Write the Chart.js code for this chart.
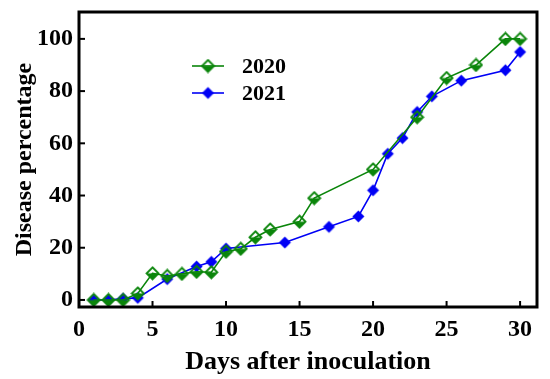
<!DOCTYPE html>
<html>
<head>
<meta charset="utf-8">
<script src="https://cdn.jsdelivr.net/npm/chart.js@4/dist/chart.umd.min.js"></script>
<style>
  html, body { margin: 0; padding: 0; background: #fff; }
  #wrap { width: 550px; height: 379px; }
</style>
</head>
<body>
<div id="wrap"><canvas id="diseaseChart"></canvas></div>
<script>
// data
const days2020 = [1, 2, 3, 4, 5, 6, 7, 8, 9, 10, 11, 12, 13, 15, 16, 20, 23, 25, 27, 29, 30];
const pct2020 = [0, 0, 0, 2.5, 10.2, 9.2, 10, 10.8, 10.6, 18.5, 19.6, 24, 27, 30, 39, 50, 70, 85, 90, 100, 100];
const days2021 = [1, 2, 3, 4, 6, 8, 9, 10, 14, 17, 19, 20, 21, 22, 23, 24, 26, 29, 30];
const pct2021 = [0, 0, 0.5, 0.8, 8, 12.8, 14.6, 19.7, 22, 28, 32, 42, 56, 62, 72, 78, 84, 88, 95];
const xTicks = [0, 5, 10, 15, 20, 25, 30];
const yTicks = [0, 20, 40, 60, 80, 100];
const seriesNames = ['2020', '2021'];

const GREEN = '#0a850a';
const BLUE = '#0000f5';
const FONT = '"Liberation Serif", "Times New Roman", serif';

// marker images
function diamond(color, hollow) {
    const c = document.createElement('canvas');
    c.width = 15; c.height = 15;
    const g = c.getContext('2d');
    const m = 7.5, r = 6;
    g.beginPath();
    g.moveTo(m, m - r); g.lineTo(m + r, m); g.lineTo(m, m + r); g.lineTo(m - r, m); g.closePath();
    if (hollow) {
        g.lineWidth = 1.8; g.strokeStyle = color; g.stroke();
        g.beginPath();
        g.moveTo(m - r, m); g.lineTo(m + r, m); g.lineTo(m, m + r); g.closePath();
        g.fillStyle = color; g.fill();
    } else {
        g.fillStyle = color; g.fill();
    }
    return c;
}
const mark2020 = diamond(GREEN, true);
const mark2021 = diamond(BLUE, false);

// frame, inward ticks and legend
const framePlugin = {
    id: 'frame',
    afterDraw(chart) {
        const { ctx, chartArea: a, scales } = chart;
        ctx.save();
        ctx.strokeStyle = '#000';
        ctx.lineWidth = 2;
        xTicks.forEach(v => {
            const x = scales.x.getPixelForValue(v);
            ctx.beginPath(); ctx.moveTo(x, a.bottom); ctx.lineTo(x, a.bottom - 6); ctx.stroke();
        });
        yTicks.forEach(v => {
            const y = scales.y.getPixelForValue(v);
            ctx.beginPath(); ctx.moveTo(a.left, y); ctx.lineTo(a.left + 6, y); ctx.stroke();
        });
        ctx.lineWidth = 3;
        ctx.strokeRect(a.left, a.top, a.right - a.left, a.bottom - a.top);

        // legend
        const items = [[GREEN, mark2020], [BLUE, mark2021]];
        ctx.font = 'bold 22px ' + FONT;
        ctx.textBaseline = 'middle';
        ctx.fillStyle = '#000';
        items.forEach((it, i) => {
            const y = 66 + i * 27;
            ctx.strokeStyle = it[0];
            ctx.lineWidth = 1.6;
            ctx.beginPath(); ctx.moveTo(192, y); ctx.lineTo(224, y); ctx.stroke();
            ctx.drawImage(it[1], 208 - 7.5, y - 7.5);
            ctx.fillText(seriesNames[i], 242, y + 1);
        });
        ctx.restore();
    }
};

new Chart(document.getElementById('diseaseChart'), {
    type: 'scatter',
    data: {
        datasets: [
            {
                label: seriesNames[0],
                data: days2020.map((d, i) => ({ x: d, y: pct2020[i] })),
                showLine: true,
                borderColor: GREEN,
                borderWidth: 1.6,
                pointStyle: mark2020,
                pointRadius: 7
            },
            {
                label: seriesNames[1],
                data: days2021.map((d, i) => ({ x: d, y: pct2021[i] })),
                showLine: true,
                borderColor: BLUE,
                borderWidth: 1.6,
                pointStyle: mark2021,
                pointRadius: 7
            }
        ]
    },
    options: {
        responsive: true,
        maintainAspectRatio: false,
        animation: false,
        layout: { padding: { top: 12, right: 13, left: 0, bottom: 0 } },
        plugins: { legend: { display: false }, tooltip: { enabled: false } },
        scales: {
            x: {
                type: 'linear',
                min: 0,
                max: 31.15,
                afterBuildTicks: s => { s.ticks = xTicks.map(v => ({ value: v })); },
                afterFit: s => { s.height = 72; s.paddingLeft = 0; s.paddingRight = 0; },
                grid: { display: false, drawTicks: false },
                border: { display: false },
                ticks: { color: '#000', padding: 8, font: { family: FONT, size: 24, weight: 'bold' } },
                title: {
                    display: true,
                    text: 'Days after inoculation',
                    color: '#000',
                    padding: { top: 0, bottom: 1 },
                    font: { family: FONT, size: 26, weight: 'bold' }
                }
            },
            y: {
                min: -2.7,
                max: 110.3,
                afterBuildTicks: s => { s.ticks = yTicks.map(v => ({ value: v })); },
                afterFit: s => { s.width = 79; s.paddingTop = 0; s.paddingBottom = 0; },
                grid: { display: false, drawTicks: false },
                border: { display: false },
                ticks: { color: '#000', padding: 6, font: { family: FONT, size: 24, weight: 'bold' } },
                title: {
                    display: true,
                    text: 'Disease percentage',
                    color: '#000',
                    padding: { top: 10, bottom: 0 },
                    font: { family: FONT, size: 24, weight: 'bold' }
                }
            }
        }
    },
    plugins: [framePlugin]
});
</script>
</body>
</html>
